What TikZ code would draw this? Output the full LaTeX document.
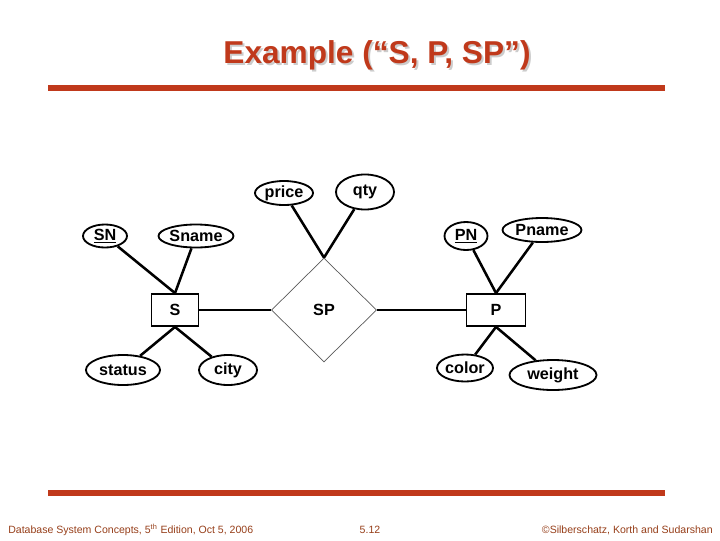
\documentclass[tikz,border=0pt]{standalone}
\usepackage{fontspec}
\setmainfont{Liberation Sans}
\usetikzlibrary{shapes.geometric}
\definecolor{slidered}{RGB}{192,57,27}
\definecolor{footbrown}{RGB}{150,62,25}

\tikzset{
  attr/.style   = {draw, ellipse, line width=1.3pt, inner sep=0pt, font=\bfseries\fontsize{11.5}{13}\selectfont},
  entity/.style = {draw, rectangle, line width=1.3pt, inner sep=0pt, font=\bfseries\fontsize{11.5}{13}\selectfont},
  rel/.style    = {draw=black!65, diamond, line width=0.5pt, inner sep=0pt, font=\bfseries\fontsize{11.5}{13}\selectfont},
  link/.style   = {line width=1.8pt},
  rule/.style   = {slidered, line width=3.6pt},
  foot/.style   = {footbrown, font=\fontsize{7.5}{8}\selectfont, inner sep=0pt}
}

\begin{document}
\begin{tikzpicture}[x=0.025cm, y=-0.025cm]
\useasboundingbox (0,0) rectangle (720,540);
% title and rules
\node [black!20, font=\bfseries\fontsize{22.5}{26}\selectfont] (titleshadow) at (379,57) {Example (“S, P, SP”)};
\node [slidered, font=\bfseries\fontsize{22.5}{26}\selectfont] (title) at (377,55) {Example (“S, P, SP”)};
\coordinate (topL) at (48,88);
\coordinate (topR) at (665,88);
\coordinate (botL) at (48,493);
\coordinate (botR) at (665,493);
\draw [rule] (topL) -- (topR);
\draw [rule] (botL) -- (botR);
% entities and relationship
\node [entity, minimum width=1.175cm, minimum height=0.8cm] (S) at (175,310) {S};
\node [entity, minimum width=1.475cm, minimum height=0.8cm] (P) at (496,310) {P};
\node [rel, minimum width=2.625cm, minimum height=2.6cm] (SP) at (324,310) {SP};
% attributes
\node [attr, minimum width=1.1cm, minimum height=0.575cm] (SN) at (105,236) {\underline{SN}};
\node [attr, minimum width=1.775cm, minimum height=0.575cm] (Sname) at (196,236) {Sname};
\node [attr, minimum width=1.85cm, minimum height=0.75cm] (status) at (123,370) {status};
\node [attr, minimum width=1.45cm, minimum height=0.75cm] (city) at (228,370) {city};
\node [attr, minimum width=1.45cm, minimum height=0.6cm] (price) at (284,193) {price};
\node [attr, minimum width=1.45cm, minimum height=0.875cm] (qty) at (365,192) {qty};
\node [attr, minimum width=1.075cm, minimum height=0.7cm] (PN) at (466,236) {\underline{PN}};
\node [attr, minimum width=1.975cm, minimum height=0.6cm] (Pname) at (542,230) {Pname};
\node [attr, minimum width=1.4cm, minimum height=0.675cm] (color) at (465,368) {color};
\node [attr, minimum width=2.175cm, minimum height=0.75cm] (weight) at (553,375) {weight};
% links
\draw [link] (SN) -- (S.north);
\draw [link] (Sname) -- (S.north);
\draw [link] (S.south) -- (status);
\draw [link] (S.south) -- (city);
\draw [link] (price) -- (SP.north);
\draw [link] (qty) -- (SP.north);
\draw [link] (S.east) -- (SP.west);
\draw [link] (SP.east) -- (P.west);
\draw [link] (PN) -- (P.north);
\draw [link] (Pname) -- (P.north);
\draw [link] (P.south) -- (color);
\draw [link] (P.south) -- (weight);
% footer
\node [foot, anchor=west] (book) at (8,530) {Database System Concepts, 5\textsuperscript{th} Edition, Oct 5, 2006};
\node [foot] (page) at (370,530) {5.12};
\node [foot, anchor=east] (copy) at (713,530) {©Silberschatz, Korth and Sudarshan};
\end{tikzpicture}
\end{document}
